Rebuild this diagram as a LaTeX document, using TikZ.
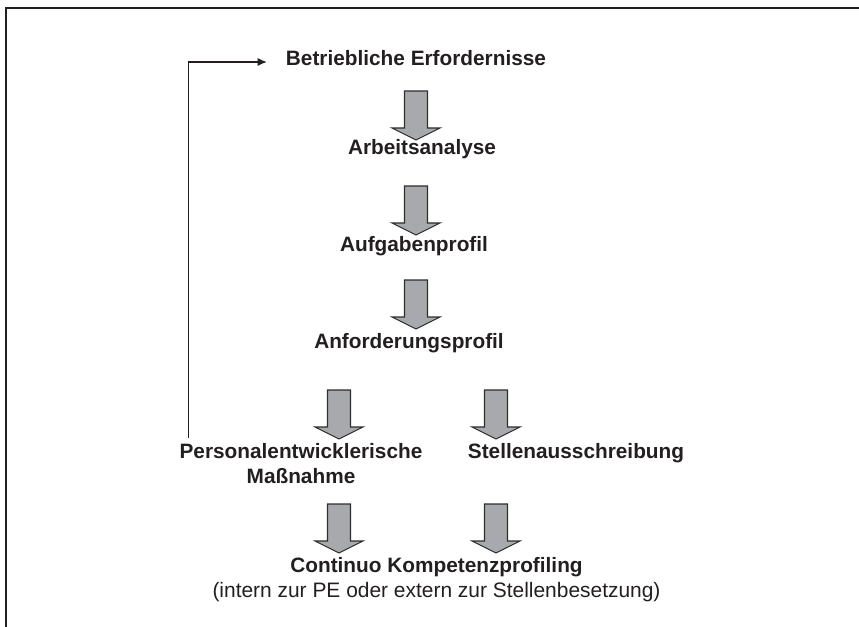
\documentclass[tikz,border=0pt]{standalone}
\usepackage{fontspec}
\setmainfont{Liberation Sans}
\usetikzlibrary{arrows.meta}
\definecolor{txt}{HTML}{231F20}
\definecolor{arrowgray}{HTML}{A7A9AC}
\definecolor{arrowedge}{HTML}{2E2E2E}
\begin{document}
\begin{tikzpicture}[x=0.75pt,y=-0.75pt,
  lbl/.style={font=\fontsize{15.6}{18.2}\selectfont\bfseries, text=txt, inner sep=0pt, anchor=base, align=center},
  sublbl/.style={font=\fontsize{15.7}{18.2}\selectfont, text=txt, inner sep=0pt, anchor=base},
  barrow/.pic={\draw[fill=arrowgray, draw=arrowedge, line width=0.8pt, line join=miter]
     (-11.5,0) -- (11.5,0) -- (11.5,37) -- (24,37) -- (0,49) -- (-24,37) -- (-11.5,37) -- cycle;},
  frameline/.style={draw=txt, line width=1.5pt},
  feedback/.style={draw=txt, line width=0.9pt, -{Latex[length=7pt,width=6pt]}}]
\useasboundingbox (0,0) rectangle (859,627);
% frame (top and left edges)
\draw[frameline] (6,627) -- (6,8) -- (859,8);
% text nodes
\node[lbl] (betr) at (416,66) {Betriebliche Erfordernisse};
\node[lbl] (arb)  at (422,155) {Arbeitsanalyse};
\node[lbl] (aufg) at (414,251) {Aufgabenprofil};
\node[lbl] (anf)  at (409,348) {Anforderungsprofil};
\node[lbl] (pers) at (301,483) {Personalentwicklerische\\Maßnahme};
\node[lbl] (stel) at (576,458.5) {Stellenausschreibung};
\node[lbl] (cont) at (436.5,572.5) {Continuo Kompetenzprofiling};
\node[sublbl] (intern) at (436.5,597) {(intern zur PE oder extern zur Stellenbesetzung)};
% block arrows
\pic at (416,91) {barrow};
\pic at (416,186) {barrow};
\pic at (416,280) {barrow};
\pic at (339,390) {barrow};
\pic at (496,390) {barrow};
\pic at (339,504) {barrow};
\pic at (496,504) {barrow};
% feedback loop
\coordinate (fbstart) at (188.5,438);
\coordinate (fbend) at (267,62);
\draw[feedback] (fbstart) |- (fbend);
\end{tikzpicture}
\end{document}
